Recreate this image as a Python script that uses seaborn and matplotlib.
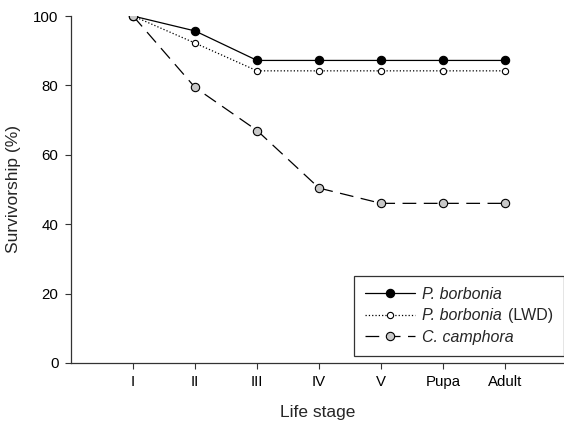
import numpy as np
import pandas as pd
import seaborn as sns
import matplotlib
matplotlib.use("Agg")
import matplotlib.pyplot as plt
from matplotlib.offsetbox import TextArea, HPacker

stages = ["I", "II", "III", "IV", "V", "Pupa", "Adult"]
p_borbonia = [100, 95.7, 87.2, 87.2, 87.2, 87.2, 87.2]
p_borbonia_lwd = [100, 92.2, 84.2, 84.2, 84.2, 84.2, 84.2]
c_camphora = [100, 79.4, 67.0, 50.4, 46.0, 46.0, 46.0]

sns.set_style("ticks")
plt.rcParams["font.family"] = ["Liberation Sans", "DejaVu Sans"]

fig = plt.figure(figsize=(5.64, 4.22), dpi=100)
ax = fig.add_axes([0.126, 0.140, 0.874, 0.822])

x = np.arange(1, len(stages) + 1)
series = [
    (p_borbonia, "-", "black", 6, "P. borbonia"),
    (p_borbonia_lwd, ":", "white", 4.5, "P. borbonia"),
    (c_camphora, (0, (11, 6)), "#c8c8c8", 6, "C. camphora"),
]
for vals, ls, fc, ms, lab in series:
    df = pd.DataFrame({"stage": x, "surv": vals})
    sns.lineplot(data=df, x="stage", y="surv", ax=ax, color="black",
                 linestyle=ls, linewidth=0.9, marker="o", markersize=ms,
                 markerfacecolor=fc, markeredgecolor="black",
                 markeredgewidth=0.8, label=lab)

ax.set_xlim(0, 7.95)
ax.set_ylim(0, 100)
ax.set_xticks(x)
ax.set_xticklabels(stages)
ax.set_yticks([0, 20, 40, 60, 80, 100])
ax.tick_params(labelsize=10.8, length=4, width=0.8, color="#333333",
               labelcolor="black", pad=5)
ax.set_xlabel("Life stage", fontsize=12.5, labelpad=11)
ax.set_ylabel("Survivorship (%)", fontsize=12.5, labelpad=9)
sns.despine(ax=ax)
for s in ["left", "bottom"]:
    ax.spines[s].set_linewidth(0.9)
    ax.spines[s].set_color("#333333")

leg = ax.legend(loc="lower right", bbox_to_anchor=(1.0, 0.02), fontsize=11.5,
                frameon=True, fancybox=False, edgecolor="black",
                handlelength=3.1, handletextpad=0.45, borderpad=0.7,
                labelspacing=0.4, borderaxespad=0)
leg.get_frame().set_linewidth(0.9)
for t in leg.get_texts():
    t.set_fontstyle("italic")

# second row: italic name followed by upright "(LWD)"
row = leg._legend_handle_box.get_children()[0].get_children()[1]
name_box = row.get_children()[1]
extra = TextArea("(LWD)", textprops=dict(fontsize=11.5))
row._children[1] = HPacker(children=[name_box, extra], pad=0, sep=4.5,
                           align="baseline")
row.set_figure(fig)

fig.savefig("out.png", dpi=100)
